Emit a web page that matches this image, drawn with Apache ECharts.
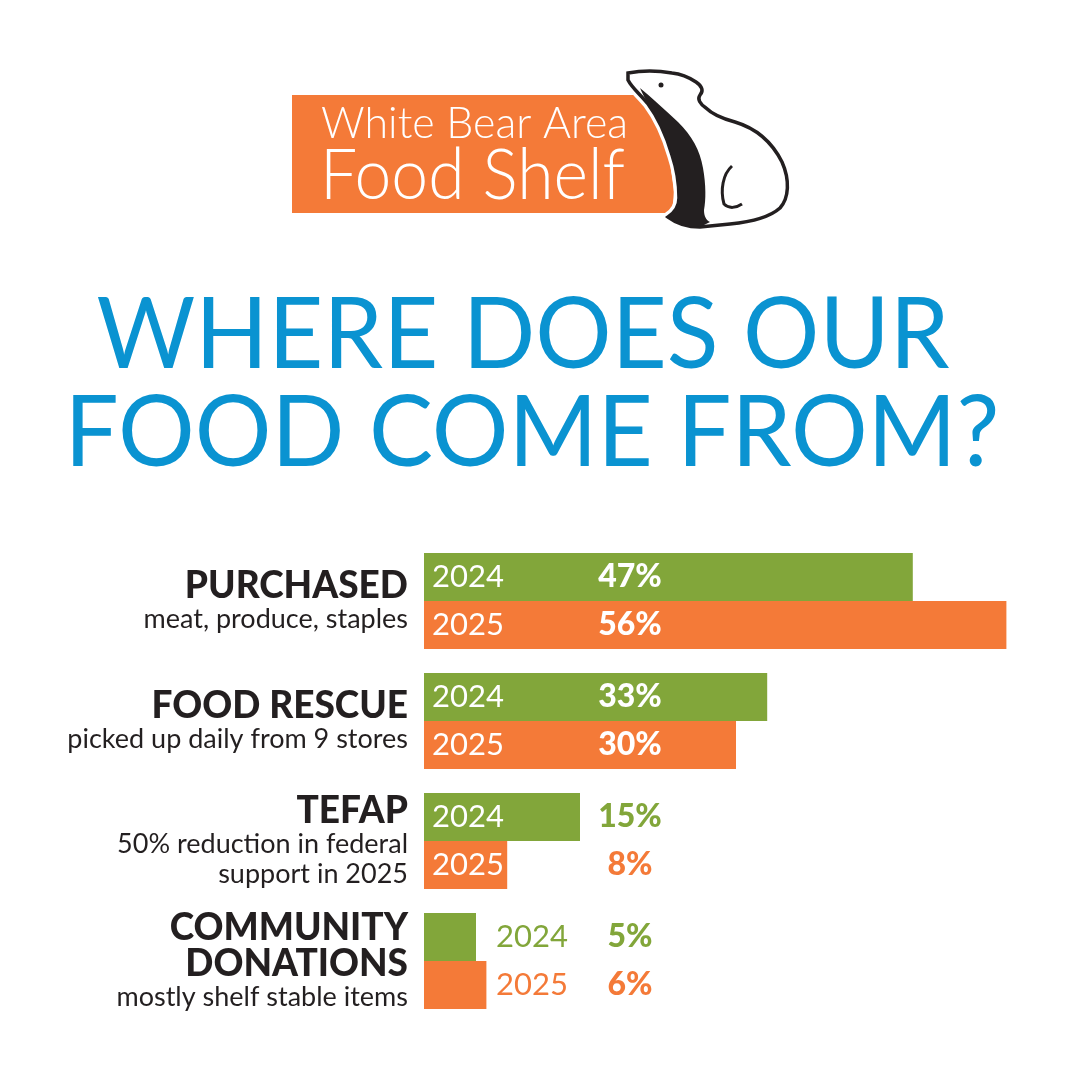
<!DOCTYPE html>
<html>
<head>
<meta charset="utf-8">
<title>Where does our food come from?</title>
<script src="https://cdn.jsdelivr.net/npm/echarts@6.0.0/dist/echarts.min.js"></script>
<style>
  html, body { margin: 0; padding: 0; background: #ffffff; }
  #main { width: 1080px; height: 1080px; }
</style>
</head>
<body>
<div id="main"></div>
<script>
// data
var categories = ['PURCHASED', 'FOOD RESCUE', 'TEFAP', 'COMMUNITY\nDONATIONS'];
var notes = ['meat, produce, staples', 'picked up daily from 9 stores', '50% reduction in federal\nsupport in 2025', 'mostly shelf stable items'];
var years = ['2024', '2025'];
var share2024 = [47, 33, 15, 5];
var share2025 = [56, 30, 8, 6];

var GREEN = '#82a63a';
var ORANGE = '#f47a38';
var BLUE = '#0a93d1';
var DARK = '#231f20';
var FONT = 'Lato, "Open Sans", sans-serif';

// scaleX needed so a text line spans a given width (condensed look)
var measureCtx = document.createElement('canvas').getContext('2d');
function fitScale(text, font, width) {
  measureCtx.font = font;
  return width / measureCtx.measureText(text).width;
}

// bear drawing for the logo
var bearBody = 'M628,73 C645,70 660,71 672,73 C682,74 690,78 696,82 C702,86 704,91 700,95 C697,99 700,104 706,108 C712,114 720,118 735,122 C755,128 772,142 782,162 C790,180 789,198 780,208 C770,217 750,222 730,224 L700,227 C688,227 676,223 668,217 C674,213 679,208 679,198 C679,185 677,170 672,155 C667,138 660,120 648,104 C640,94 632,88 628,80 Z';
var bearChest = 'M640,88 C652,98 665,110 678,122 C692,136 700,150 703,168 C706,185 706,200 704,210 C704,216 706,220 710,222 L700,227 C688,227 676,223 668,217 C674,213 679,208 679,198 C679,185 677,170 672,155 C667,138 660,120 648,104 C645,98 642,93 640,88 Z';
var bearLeg = 'M732,166 C723,174 720,190 724,204 C729,209 736,208 742,204';
echarts.graphic.registerShape('bearBody', echarts.graphic.extendPath(bearBody));
echarts.graphic.registerShape('bearChest', echarts.graphic.extendPath(bearChest));
echarts.graphic.registerShape('bearLeg', echarts.graphic.extendPath(bearLeg));

// bar label: year + percent, white when it sits inside the bar, coloured otherwise
function barData(values, key) {
  return values.map(function (v) {
    var yearStyle = v >= 8 ? 'yw' : 'y' + key;
    var pctStyle = v >= 24 ? 'pw' : 'p' + key;
    var year = key === 'G' ? years[0] : years[1];
    return {
      value: v,
      label: { formatter: '{' + yearStyle + '|' + year + '}{' + pctStyle + '|' + v + '%}' }
    };
  });
}

var yearBase = { fontFamily: FONT, fontSize: 31, fontWeight: 400 };
var pctBase = { fontFamily: FONT, fontSize: 32, fontWeight: 900, width: 66, align: 'center' };
var richBar = {
  yw: Object.assign({}, yearBase, { color: '#fff', width: 165 }),
  yG: Object.assign({}, yearBase, { color: GREEN, width: 101, padding: [0, 0, 0, 64] }),
  yO: Object.assign({}, yearBase, { color: ORANGE, width: 101, padding: [0, 0, 0, 64] }),
  pw: Object.assign({}, pctBase, { color: '#fff' }),
  pG: Object.assign({}, pctBase, { color: GREEN }),
  pO: Object.assign({}, pctBase, { color: ORANGE })
};

var titleFont = '400 98px Lato';
var logoFont1 = '300 43px Lato';
var logoFont2 = '300 70px Lato';

var chart = echarts.init(document.getElementById('main'), null, { renderer: 'canvas' });

var option = {
  backgroundColor: '#ffffff',
  animation: false,
  grid: { left: 424, top: 541, width: 624, height: 480 },
  xAxis: {
    type: 'value', min: 0, max: 60,
    show: false
  },
  yAxis: {
    type: 'category',
    data: categories,
    inverse: true,
    axisLine: { show: false },
    axisTick: { show: false },
    splitLine: { show: false },
    axisLabel: {
      margin: 16,
      align: 'right',
      formatter: function (value, index) {
        var t = value.split('\n').map(function (s) { return '{t|' + s + '}'; });
        var s = notes[index].split('\n').map(function (n) { return '{s|' + n + '}'; });
        return t.concat(s).join('\n');
      },
      rich: {
        t: { fontFamily: FONT, fontSize: 37, fontWeight: 900, color: DARK, lineHeight: 36, align: 'right' },
        s: { fontFamily: FONT, fontSize: 27, fontWeight: 400, color: DARK, lineHeight: 30, align: 'right' }
      }
    }
  },
  series: [
    {
      name: years[0],
      type: 'bar',
      data: barData(share2024, 'G'),
      barWidth: 48,
      barGap: '0%',
      itemStyle: { color: GREEN },
      label: { show: true, position: 'insideLeft', distance: 8, textBorderWidth: 0, rich: richBar }
    },
    {
      name: years[1],
      type: 'bar',
      data: barData(share2025, 'O'),
      barWidth: 48,
      barGap: '0%',
      itemStyle: { color: ORANGE },
      label: { show: true, position: 'insideLeft', distance: 8, textBorderWidth: 0, rich: richBar }
    }
  ],
  graphic: [
    // logo box
    {
      type: 'polygon', z: 1,
      shape: { points: [[292, 95], [642, 95], [652, 108], [662, 132], [670, 162], [674, 192], [672, 213], [292, 213]] },
      style: { fill: ORANGE }
    },
    {
      type: 'text', z: 2, x: 321, y: 124,
      scaleX: fitScale('White Bear Area', logoFont1, 307),
      style: { text: 'White Bear Area', font: logoFont1, fill: '#fff', align: 'left', verticalAlign: 'middle' }
    },
    {
      type: 'text', z: 2, x: 320, y: 176,
      scaleX: fitScale('Food Shelf', logoFont2, 305),
      style: { text: 'Food Shelf', font: logoFont2, fill: '#fff', align: 'left', verticalAlign: 'middle' }
    },
    // bear: white halo, body, chest shade, leg, eye
    { type: 'bearBody', z: 3, style: { fill: '#fff', stroke: '#fff', lineWidth: 10 } },
    { type: 'bearBody', z: 4, style: { fill: '#fff', stroke: DARK, lineWidth: 3.5 } },
    { type: 'bearChest', z: 5, style: { fill: DARK } },
    { type: 'bearLeg', z: 5, style: { fill: 'none', stroke: DARK, lineWidth: 3 } },
    { type: 'circle', z: 5, shape: { cx: 661, cy: 85, r: 2.5 }, style: { fill: DARK } },
    // headline
    {
      type: 'text', z: 2, x: 523, y: 336,
      scaleX: fitScale('WHERE DOES OUR', titleFont, 853),
      style: { text: 'WHERE DOES OUR', font: titleFont, fill: BLUE, align: 'center', verticalAlign: 'middle' }
    },
    {
      type: 'text', z: 2, x: 532, y: 434,
      scaleX: fitScale('FOOD COME FROM?', titleFont, 935),
      style: { text: 'FOOD COME FROM?', font: titleFont, fill: BLUE, align: 'center', verticalAlign: 'middle' }
    }
  ]
};

chart.setOption(option);
</script>
</body>
</html>
